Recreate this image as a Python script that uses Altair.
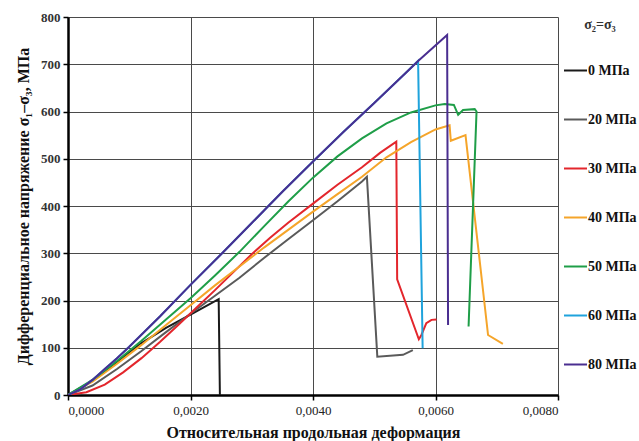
import altair as alt
import pandas as pd

series_names = ["0 МПа", "20 МПа", "30 МПа", "40 МПа", "50 МПа", "60 МПа", "80 МПа"]
series_colors = ["#1a1a1a", "#5a5a5a", "#e3262c", "#f5a52a", "#1f9e48", "#1fa3dc", "#4a2e90"]

x0 = [0, 0.0004, 0.0008, 0.0012, 0.0016, 0.002, 0.00246, 0.00248]
y0 = [0, 30, 70, 110, 142, 170, 203, 0]

x20 = [0, 0.0004, 0.0008, 0.0012, 0.0016, 0.002, 0.0024, 0.0028, 0.0032, 0.0036, 0.004, 0.0044, 0.0048, 0.00488, 0.00505, 0.00547, 0.00563]
y20 = [0, 20, 55, 93, 133, 172, 210, 248, 290, 330, 370, 410, 452, 462, 81, 85, 95]

x30 = [0, 0.0003, 0.0006, 0.0009, 0.0012, 0.0015, 0.0018, 0.0021, 0.0024, 0.0027, 0.003, 0.0033, 0.0036, 0.004, 0.0044, 0.0048, 0.0051, 0.00536, 0.005374, 0.005728, 0.00577, 0.00585, 0.005935, 0.006017]
y30 = [0, 6, 22, 48, 78, 112, 148, 185, 222, 260, 298, 333, 365, 405, 445, 482, 513, 536, 245, 118, 127, 152, 159, 160]

x40 = [0, 0.0004, 0.0008, 0.0012, 0.0016, 0.002, 0.0024, 0.0028, 0.0032, 0.0036, 0.004, 0.0044, 0.0048, 0.0052, 0.0056, 0.006, 0.00623, 0.00625, 0.00649, 0.006858, 0.0071]
y40 = [0, 28, 66, 106, 148, 190, 232, 272, 312, 350, 388, 425, 462, 503, 535, 562, 571, 538, 550, 127, 108]

x50 = [0, 0.0004, 0.0008, 0.0012, 0.0016, 0.002, 0.0024, 0.0028, 0.0032, 0.0036, 0.004, 0.0044, 0.0048, 0.0052, 0.0056, 0.006, 0.00615, 0.0063, 0.00637, 0.00645, 0.00664, 0.00667, 0.00654]
y50 = [0, 32, 72, 115, 160, 205, 253, 303, 357, 410, 460, 505, 543, 575, 598, 613, 616, 614, 593, 603, 605, 600, 145]

x60 = [0, 0.0002, 0.0004, 0.0006, 0.0008, 0.001, 0.0015, 0.002, 0.0025, 0.003, 0.0035, 0.004, 0.0045, 0.005, 0.0055, 0.005716, 0.00579]
y60 = [0, 12, 32, 55, 78, 102, 166, 233, 298, 364, 430, 494, 557, 618, 680, 707, 99]

x80 = [0, 0.0002, 0.0004, 0.0006, 0.0008, 0.001, 0.0015, 0.002, 0.0025, 0.003, 0.0035, 0.004, 0.0045, 0.005, 0.0055, 0.005716, 0.00619, 0.006205]
y80 = [0, 12, 32, 55, 78, 102, 166, 233, 298, 364, 430, 494, 557, 618, 680, 707, 762, 148]

x_ticks = [0, 0.002, 0.004, 0.006, 0.008]
y_ticks = [0, 100, 200, 300, 400, 500, 600, 700, 800]

rows = []
for name, xs, ys in zip(series_names, [x0, x20, x30, x40, x50, x60, x80], [y0, y20, y30, y40, y50, y60, y80]):
    for i, (xv, yv) in enumerate(zip(xs, ys)):
        rows.append({"series": name, "x": xv, "y": yv, "i": i})
df = pd.DataFrame(rows)

serif = "Liberation Serif"

lines = alt.Chart(df).mark_line(strokeWidth=2, clip=True).encode(
    x=alt.X("x:Q", scale=alt.Scale(domain=[0, 0.008], nice=False),
            axis=alt.Axis(values=x_ticks, title="Относительная продольная деформация",
                          labelExpr="replace(format(datum.value, '.4f'), '.', ',')",
                          grid=True, gridColor="#4a4a4a", gridWidth=1, gridOpacity=1,
                          domainColor="#000000", domainWidth=2.5, tickColor="#000000",
                          tickSize=5, tickWidth=1.5, labelFont=serif, labelFontSize=13,
                          labelColor="#222222", labelPadding=4,
                          titleFont=serif, titleFontSize=16, titleFontWeight="bold",
                          titleColor="#111111", titlePadding=7)),
    y=alt.Y("y:Q", scale=alt.Scale(domain=[0, 800], nice=False),
            axis=alt.Axis(values=y_ticks, title="Дифференциальное напряжение σ₁–σ₃,  МПа",
                          grid=True, gridColor="#4a4a4a", gridWidth=1, gridOpacity=1,
                          domainColor="#000000", domainWidth=2.5, tickColor="#000000",
                          tickSize=5, tickWidth=1.5, labelFont=serif, labelFontSize=13,
                          labelFontWeight="bold", labelColor="#333333", labelPadding=3,
                          titleFont=serif, titleFontSize=16, titleFontWeight="bold",
                          titleColor="#111111", titlePadding=9)),
    color=alt.Color("series:N",
                    scale=alt.Scale(domain=series_names, range=series_colors),
                    sort=series_names,
                    legend=alt.Legend(title="σ₂=σ₃", orient="none", legendX=495, legendY=1,
                                      symbolType="stroke", symbolSize=529, symbolStrokeWidth=2,
                                      labelFont=serif, labelFontSize=14, labelFontWeight="bold",
                                      labelColor="#111111", titleFont=serif, titleFontSize=14,
                                      titleFontWeight="bold", titleColor="#333333",
                                      titlePadding=26, rowPadding=29, labelOffset=0,
                                      titleAnchor="middle")),
    order=alt.Order("i:Q"),
)

chart = lines.properties(
    width=490, height=378,
    autosize=alt.AutoSizeParams(type="none"),
    padding={"left": 68, "top": 17, "right": 81, "bottom": 46},
    background="#ffffff",
).configure_view(stroke=None)

chart.save("out.html", embed_options={"renderer": "svg", "actions": False})
